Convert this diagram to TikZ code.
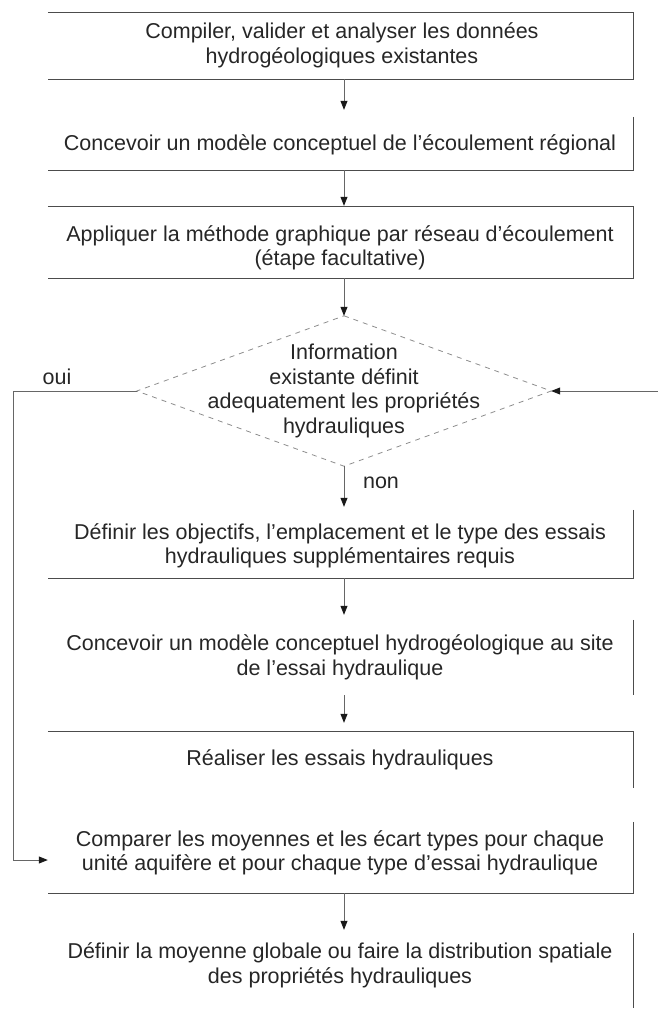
\documentclass[tikz,border=0pt]{standalone}
\usepackage{fontspec}
\setmainfont{Liberation Sans}
\usetikzlibrary{arrows.meta,shapes.geometric}
\begin{document}
\begin{tikzpicture}[x=1pt,y=-1pt,
  txt/.style={font=\fontsize{21.5}{24.5}\selectfont, text=black!85, align=center, inner sep=0pt},
  boxnode/.style={minimum width=585pt, inner sep=0pt},
  edge/.style={draw=black!70, line width=1.1pt},
  arr/.style={draw=black!60, line width=0.8pt, -{Triangle[length=9pt,width=7pt,color=black!90]}},
  dia/.style={draw=black!45, line width=0.8pt, dash pattern=on 5pt off 5pt}
]
\useasboundingbox (0,0) rectangle (658,1021);

% box frames
\node[boxnode, minimum height=66pt] (b1) at (340.5,46) {};
\node[boxnode, minimum height=53pt] (b2) at (340.5,143.5) {};
\node[boxnode, minimum height=71pt] (b3) at (340.5,242.5) {};
\node[boxnode, minimum height=68pt] (b4) at (340.5,544) {};
\node[boxnode, minimum height=75pt] (b5) at (340.5,657.5) {};
\node[boxnode, minimum height=56pt] (b6) at (340.5,760) {};
\node[boxnode, minimum height=71pt] (b7) at (340.5,857.5) {};
\node[boxnode, minimum height=75pt] (b8) at (340.5,970.5) {};

% texts
\node[txt] (t1) at (342,45.5) {Compiler, valider et analyser les données\\hydrogéologiques existantes};
\node[txt] (t2) at (340,145) {Concevoir un modèle conceptuel de l'écoulement régional};
\node[txt] (t3) at (340,248) {Appliquer la méthode graphique par réseau d'écoulement\\(étape facultative)};
\node[txt] (t4) at (340,546) {Définir les objectifs, l'emplacement et le type des essais\\hydrauliques supplémentaires requis};
\node[txt] (t5) at (340,657.5) {Concevoir un modèle conceptuel hydrogéologique au site\\de l'essai hydraulique};
\node[txt] (t6) at (340,760) {Réaliser les essais hydrauliques};
\node[txt] (t7) at (340,853) {Comparer les moyennes et les écart types pour chaque\\unité aquifère et pour chaque type d'essai hydraulique};
\node[txt] (t8) at (340,965.5) {Définir la moyenne globale ou faire la distribution spatiale\\des propriétés hydrauliques};

% visible edges
\draw[edge] (b1.north west) -- (b1.north east) -- (b1.south east) -- (b1.south west);
\draw[edge] (b2.north east) -- (b2.south east) -- (b2.south west);
\draw[edge] (b3.north west) -- (b3.north east) -- (b3.south east) -- (b3.south west);
\draw[edge] (b4.north east) -- (b4.south east) -- (b4.south west);
\draw[edge] (b5.north east) -- (b5.south east);
\draw[edge] (b6.north west) -- (b6.north east) -- (b6.south east);
\draw[edge] (b7.north east) -- (b7.south east) -- (b7.south west);
\draw[edge] (b8.north east) -- (b8.south east);

% decision
\node[diamond, minimum width=414pt, minimum height=150pt, inner sep=0pt] (d) at (344,391) {};
\draw[dia] (d.north) -- (d.east) -- (d.south) -- (d.west) -- cycle;
\node[txt] (dt) at (344,391) {Information\\existante définit\\adequatement les propriétés\\hydrauliques};

% arrows
\draw[arr, shorten >=7pt] (b1.south -| d.north) -- (b2.north -| d.north);
\draw[arr, shorten >=1pt] (b2.south -| d.north) -- (b3.north -| d.north);
\draw[arr] (b3.south -| d.north) -- (d.north);
\draw[arr, shorten >=3pt] (d.south) -- (b4.north -| d.south);
\draw[arr, shorten >=5pt] (b4.south -| d.north) -- (b5.north -| d.north);
\draw[arr, shorten >=9pt] (b5.south -| d.north) -- (b6.north -| d.north);
\draw[arr, shorten >=3pt] (b7.south -| d.north) -- (b8.north -| d.north);

\node[txt] (non) at (381,483) {non};
\node[txt] (oui) at (57,377) {oui};

% loop back (oui)
\coordinate (l1) at (13,391);
\coordinate (l2) at (13,860);
\draw[arr] (d.west) -- (l1) -- (l2) -- (l2 -| b7.west);

% incoming from right
\coordinate (r1) at (658,391);
\draw[arr] (r1) -- (d.east);
\end{tikzpicture}
\end{document}
